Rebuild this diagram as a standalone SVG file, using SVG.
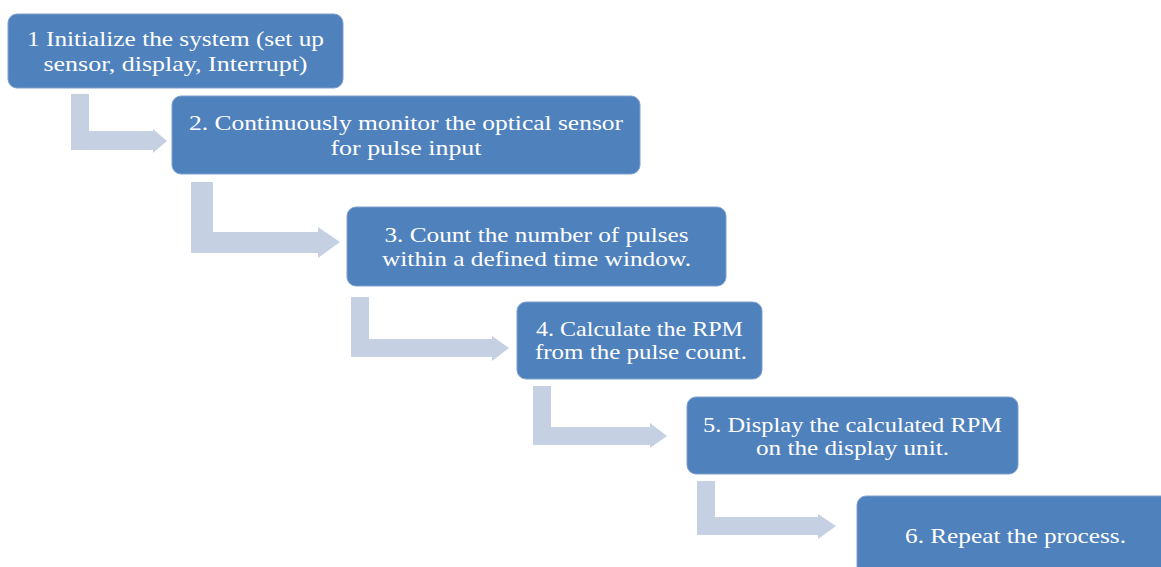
<svg xmlns="http://www.w3.org/2000/svg" width="1161" height="567" viewBox="0 0 1161 567">
<style>
.box{fill:#4F81BD;stroke:#7FA0CF;stroke-width:1}
.arr{fill:#C5D0E3}
text{font-family:"Liberation Serif","DejaVu Serif",serif;font-size:22px;fill:#FFFFFF;text-anchor:middle}
</style>
<rect width="1161" height="567" fill="#FFFFFF"/>
<g id="connectors">
<path class="arr" d="M71,94 H89 V131 H153 V129 L167,141 L153,153 V150 H71 Z"/>
<path class="arr" d="M191,182 H213 V232 H318 V227 L340,242 L318,258 V253 H191 Z"/>
<path class="arr" d="M351,297 H369 V339 H492 V336 L509,348 L492,361 V357 H351 Z"/>
<path class="arr" d="M533,386 H551 V427 H650 V423 L667,436 L650,448 V445 H533 Z"/>
<path class="arr" d="M697,481 H715 V517 H818 V514 L836,526 L818,539 V535 H697 Z"/>
</g>
<g id="node1">
<rect class="box" x="8" y="14" width="335" height="74" rx="9"/>
<text x="175.5" y="46" textLength="297" lengthAdjust="spacingAndGlyphs">1 Initialize the system (set up</text>
<text x="175.5" y="71" textLength="264" lengthAdjust="spacingAndGlyphs">sensor, display, Interrupt)</text>
</g>
<g id="node2">
<rect class="box" x="172" y="96" width="468" height="78" rx="9"/>
<text x="406" y="130" textLength="434" lengthAdjust="spacingAndGlyphs">2. Continuously monitor the optical sensor</text>
<text x="406" y="155" textLength="151" lengthAdjust="spacingAndGlyphs">for pulse input</text>
</g>
<g id="node3">
<rect class="box" x="347" y="207" width="379" height="79" rx="9"/>
<text x="536.5" y="242" textLength="304" lengthAdjust="spacingAndGlyphs">3. Count the number of pulses</text>
<text x="536.5" y="266" textLength="309" lengthAdjust="spacingAndGlyphs">within a defined time window.</text>
</g>
<g id="node4">
<rect class="box" x="517" y="302" width="245" height="77" rx="9"/>
<text x="639.5" y="336" textLength="207" lengthAdjust="spacingAndGlyphs">4. Calculate the RPM</text>
<text x="641" y="359" textLength="212" lengthAdjust="spacingAndGlyphs">from the pulse count.</text>
</g>
<g id="node5">
<rect class="box" x="687" y="397" width="331" height="77" rx="9"/>
<text x="852.5" y="432" textLength="299" lengthAdjust="spacingAndGlyphs">5. Display the calculated RPM</text>
<text x="852.5" y="455" textLength="193" lengthAdjust="spacingAndGlyphs">on the display unit.</text>
</g>
<g id="node6">
<rect class="box" x="857" y="496" width="316" height="80" rx="9"/>
<text x="1015.5" y="543" textLength="221" lengthAdjust="spacingAndGlyphs">6. Repeat the process.</text>
</g>
</svg>
